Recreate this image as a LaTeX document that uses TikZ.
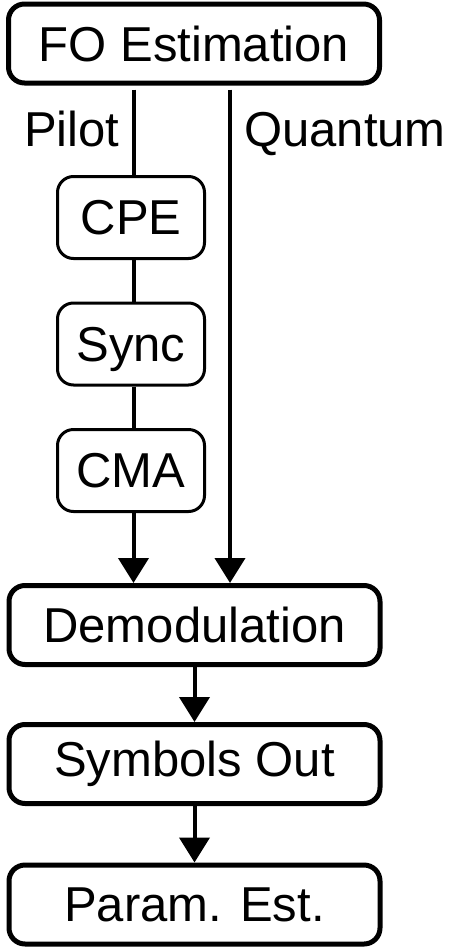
\documentclass[tikz,border=0pt]{standalone}
\usepackage{fontspec}
\setmainfont{Liberation Sans}
\usetikzlibrary{arrows.meta}
\begin{document}
\begin{tikzpicture}[x=1pt,y=-1pt,
  txt/.style={font=\fontsize{49}{59}\selectfont},
  bigbox/.style={txt,draw,line width=5pt,rounded corners=16pt,minimum width=371pt,minimum height=79pt,inner sep=0pt},
  smallbox/.style={txt,draw,line width=3pt,rounded corners=16pt,minimum width=147pt,minimum height=82pt,inner sep=0pt},
  conn/.style={line width=4pt},
  arr/.style={conn,-{Triangle[width=30pt,length=25pt]}},
  lbl/.style={txt,inner sep=0pt,anchor=base west}]
\useasboundingbox (0,0) rectangle (451,948);
\fill[white] (0,0) rectangle (451,948);
\node[bigbox] (fo) at (194,43.5) {FO Estimation};
\node[smallbox] (cpe) at (131,217.5) {CPE};
\node[smallbox,text depth=0pt] (sync) at (131,344) {Sync};
\node[smallbox] (cma) at (131,470.5) {CMA};
\node[bigbox] (demod) at (194.5,625) {Demodulation};
\node[bigbox] (sym) at (194.5,764) {Symbols Out};
\node[bigbox] (par) at (194.5,904.5) {Param. Est.};
\coordinate (px) at (133.5,0);
\coordinate (qx) at (230,0);
\node[lbl] (pilot) at (24,146) {Pilot};
\node[lbl] (quantum) at (244,146) {Quantum};
\draw[conn,shorten <=4pt] (fo.south -| px) -- (cpe.north -| px);
\draw[conn] (cpe.south -| px) -- (sync.north -| px);
\draw[conn] (sync.south -| px) -- (cma.north -| px);
\draw[arr] (cma.south -| px) -- (demod.north -| px);
\draw[arr,shorten <=4pt] (fo.south -| qx) -- (demod.north -| qx);
\draw[arr] (demod.south -| sym.north) -- (sym.north);
\draw[arr] (sym.south -| par.north) -- (par.north);
\end{tikzpicture}
\end{document}
